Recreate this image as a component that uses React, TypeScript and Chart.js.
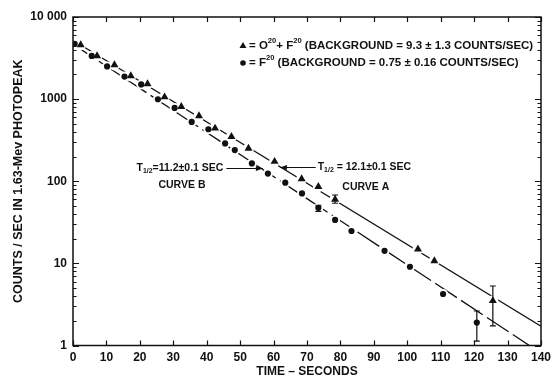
import React, { useEffect, useRef } from "react";
import { Chart, registerables } from "chart.js";

Chart.register(...registerables);

const FONT = "'Liberation Sans', Arial, Helvetica, sans-serif";
const INK = "#111111";

// ---- axis ticks ----
const xTickValues = [0, 10, 20, 30, 40, 50, 60, 70, 80, 90, 100, 110, 120, 130, 140];
const xTickLabels = ["0", "10", "20", "30", "40", "50", "60", "70", "80", "90", "100", "110", "120", "130", "140"];
const yTickValues = [1, 10, 100, 1000, 10000];
const yTickLabels = ["1", "10", "100", "1000", "10 000"];

// ---- O20 + F20 (triangles) ----
const curveATimes = [2.3, 7.2, 12.4, 17.3, 22.3, 27.4, 32.4, 37.7, 42.5, 47.4, 52.5, 60.3, 68.4, 73.4, 78.4, 103.2, 108.1, 125.6];
const curveACounts = [4570, 3360, 2610, 1920, 1530, 1060, 810, 624, 442, 349, 251, 174, 107, 86, 60, 14.9, 10.7, 3.5];

// ---- F20 (circles) ----
const curveBTimes = [0.5, 5.6, 10.2, 15.4, 20.4, 25.4, 30.4, 35.5, 40.5, 45.5, 48.4, 53.5, 58.3, 63.5, 68.5, 73.4, 78.4, 83.3, 93.2, 100.8, 110.7, 120.8];
const curveBCounts = [4700, 3360, 2500, 1880, 1510, 997, 781, 527, 430, 289, 240, 165, 124, 96, 71, 47.5, 33.8, 24.8, 14.2, 9.1, 4.24, 1.9];

// ---- error bars ----
const errTimes = [78.4, 125.6, 73.4, 120.8];
const errLow = [54, 1.73, 43, 1.13];
const errHigh = [68, 5.3, 51, 2.63];

// ---- fitted decay lines ----
const fitATimes = [0, 140];
const fitACounts = [5200, 1.72];
const fitBTimes = [0, 140];
const fitBCounts = [4670, 0.806];

// ---- text ----
const xTitle = "TIME – SECONDS";
const yTitle = "COUNTS / SEC IN 1.63-Mev PHOTOPEAK";
type Seg = [string, number]; // 0 normal, 1 superscript, 2 subscript
const legendA: Seg[] = [["= O", 0], ["20", 1], ["+ F", 0], ["20", 1], [" (BACKGROUND = 9.3 ± 1.3 COUNTS/SEC)", 0]];
const legendB: Seg[] = [["= F", 0], ["20", 1], [" (BACKGROUND = 0.75 ± 0.16 COUNTS/SEC)", 0]];
const annBText: Seg[] = [["T", 0], ["1/2", 2], ["=11.2±0.1 SEC", 0]];
const annAText: Seg[] = [["T", 0], ["1/2", 2], [" = 12.1±0.1 SEC", 0]];
const annBLabel = "CURVE B";
const annALabel = "CURVE A";
// annotation anchors in data coordinates [time, counts]
const annBTextAt = [19, 145];
const annBArrowTip = [56.8, 145];
const annBLabelAt = [32.6, 90];
const annATextAt = [73.2, 149];
const annAArrowTip = [61.9, 149];
const annALabelAt = [87.6, 85];

function pts(xs: number[], ys: number[]) {
  return xs.map((x, i) => ({ x, y: ys[i] }));
}

function drawRich(ctx: CanvasRenderingContext2D, x: number, y: number, segs: Seg[], size: number) {
  let cx = x;
  for (const [txt, kind] of segs) {
    const s = kind === 0 ? size : size * 0.66;
    ctx.font = `bold ${s}px ${FONT}`;
    const dy = kind === 1 ? -size * 0.4 : kind === 2 ? size * 0.32 : 0;
    ctx.fillText(txt, cx, y + dy);
    cx += ctx.measureText(txt).width;
  }
  return cx;
}

function richWidth(ctx: CanvasRenderingContext2D, segs: Seg[], size: number) {
  let w = 0;
  for (const [txt, kind] of segs) {
    const s = kind === 0 ? size : size * 0.66;
    ctx.font = `bold ${s}px ${FONT}`;
    w += ctx.measureText(txt).width;
  }
  return w;
}

function arrow(ctx: CanvasRenderingContext2D, x1: number, y: number, x2: number) {
  ctx.beginPath();
  ctx.moveTo(x1, y);
  ctx.lineTo(x2, y);
  ctx.stroke();
  const dir = x2 > x1 ? 1 : -1;
  ctx.beginPath();
  ctx.moveTo(x2, y);
  ctx.lineTo(x2 - dir * 7, y - 2.5);
  ctx.lineTo(x2 - dir * 7, y + 2.5);
  ctx.closePath();
  ctx.fill();
}

const framePlugin = {
  id: "frameAndExtras",
  afterDatasetsDraw(chart: any) {
    const { ctx, scales } = chart;
    const x = scales.x;
    const y = scales.y;
    ctx.save();
    ctx.strokeStyle = INK;
    ctx.lineWidth = 1.2;
    for (let i = 0; i < errTimes.length; i++) {
      const px = x.getPixelForValue(errTimes[i]);
      const lo = y.getPixelForValue(errLow[i]);
      const hi = y.getPixelForValue(errHigh[i]);
      ctx.beginPath();
      ctx.moveTo(px, lo);
      ctx.lineTo(px, hi);
      ctx.moveTo(px - 3, lo);
      ctx.lineTo(px + 3, lo);
      ctx.moveTo(px - 3, hi);
      ctx.lineTo(px + 3, hi);
      ctx.stroke();
    }
    ctx.restore();
  },
  afterDraw(chart: any) {
    const { ctx, chartArea, scales } = chart;
    const { left, right, top, bottom } = chartArea;
    const x = scales.x;
    const y = scales.y;
    ctx.save();
    ctx.strokeStyle = INK;
    ctx.fillStyle = INK;
    ctx.lineWidth = 1.5;
    ctx.strokeRect(left, top, right - left, bottom - top);
    ctx.lineWidth = 1.2;
    // x ticks top and bottom
    ctx.beginPath();
    for (const t of x.ticks) {
      const px = Math.round(x.getPixelForValue(t.value)) + 0.5;
      ctx.moveTo(px, bottom);
      ctx.lineTo(px, bottom - 5);
      ctx.moveTo(px, top);
      ctx.lineTo(px, top + 5);
    }
    // y ticks left and right (major + minor)
    for (const t of y.ticks) {
      const py = Math.round(y.getPixelForValue(t.value)) + 0.5;
      ctx.moveTo(left, py);
      ctx.lineTo(left + 6, py);
      ctx.moveTo(right, py);
      ctx.lineTo(right - 6, py);
      if (t.value < 10000) {
        for (let m = 2; m <= 9; m++) {
          const pm = Math.round(y.getPixelForValue(t.value * m)) + 0.5;
          ctx.moveTo(left, pm);
          ctx.lineTo(left + 3.5, pm);
          ctx.moveTo(right, pm);
          ctx.lineTo(right - 3.5, pm);
        }
      }
    }
    ctx.stroke();

    // legend
    const lx = right - 298;
    const ly1 = top + 28.5;
    const ly2 = top + 46;
    ctx.beginPath();
    ctx.moveTo(lx, ly1 - 3.5);
    ctx.lineTo(lx + 3.5, ly1 + 2.5);
    ctx.lineTo(lx - 3.5, ly1 + 2.5);
    ctx.closePath();
    ctx.fill();
    ctx.beginPath();
    ctx.arc(lx, ly2, 2.8, 0, Math.PI * 2);
    ctx.fill();
    ctx.textBaseline = "middle";
    ctx.textAlign = "left";
    drawRich(ctx, lx + 6, ly1, legendA, 11.5);
    drawRich(ctx, lx + 6, ly2, legendB, 11.5);

    // annotations
    const fs = 10.5;
    const bx = x.getPixelForValue(annBTextAt[0]);
    const by = y.getPixelForValue(annBTextAt[1]);
    const bEnd = drawRich(ctx, bx, by, annBText, fs);
    ctx.lineWidth = 1;
    arrow(ctx, bEnd + 3, Math.round(by) + 0.5, x.getPixelForValue(annBArrowTip[0]));
    ctx.font = `bold ${fs}px ${FONT}`;
    ctx.textAlign = "center";
    ctx.fillText(annBLabel, x.getPixelForValue(annBLabelAt[0]), y.getPixelForValue(annBLabelAt[1]));
    ctx.textAlign = "left";
    const ax = x.getPixelForValue(annATextAt[0]);
    const ay = y.getPixelForValue(annATextAt[1]);
    drawRich(ctx, ax, ay, annAText, fs);
    arrow(ctx, ax - 2, Math.round(ay) + 0.5, x.getPixelForValue(annAArrowTip[0]));
    ctx.font = `bold ${fs}px ${FONT}`;
    ctx.textAlign = "center";
    ctx.fillText(annALabel, x.getPixelForValue(annALabelAt[0]), y.getPixelForValue(annALabelAt[1]));
    void richWidth;
    ctx.restore();
  },
};

export default function App() {
  const ref = useRef<HTMLCanvasElement | null>(null);
  useEffect(() => {
    const canvas = ref.current;
    if (!canvas) return;
    const tickFont = { family: FONT, size: 12, weight: "bold" as const };
    const chart = new Chart(canvas, {
      type: "scatter",
      data: {
        datasets: [
          {
            label: "O20 + F20",
            data: pts(curveATimes, curveACounts),
            pointStyle: "triangle",
            pointRadius: 4.6,
            backgroundColor: INK,
            borderColor: INK,
            borderWidth: 0,
            order: 0,
          },
          {
            label: "F20",
            data: pts(curveBTimes, curveBCounts),
            pointStyle: "circle",
            pointRadius: 3.1,
            backgroundColor: INK,
            borderColor: INK,
            borderWidth: 0,
            order: 0,
          },
          {
            label: "haloA",
            data: pts(curveATimes, curveACounts),
            pointStyle: "circle",
            pointRadius: 5.5,
            backgroundColor: "#ffffff",
            borderWidth: 0,
            order: 1,
          },
          {
            label: "haloB",
            data: pts(curveBTimes, curveBCounts),
            pointStyle: "circle",
            pointRadius: 5,
            backgroundColor: "#ffffff",
            borderWidth: 0,
            order: 1,
          },
          {
            label: "Curve A",
            data: pts(fitATimes, fitACounts),
            showLine: true,
            pointRadius: 0,
            borderColor: INK,
            borderWidth: 1.3,
            order: 2,
          },
          {
            label: "Curve B",
            data: pts(fitBTimes, fitBCounts),
            showLine: true,
            pointRadius: 0,
            borderColor: INK,
            borderWidth: 1.3,
            borderDash: [26, 5],
            order: 2,
          },
        ],
      },
      options: {
        animation: false,
        responsive: false,
        devicePixelRatio: 1,
        layout: { padding: { top: 17, right: 12, left: 0, bottom: 0 } },
        plugins: { legend: { display: false }, tooltip: { enabled: false } },
        scales: {
          x: {
            type: "linear",
            min: 0,
            max: 140,
            afterBuildTicks: (s: any) => {
              s.ticks = xTickValues.map((v) => ({ value: v }));
            },
            afterFit: (s: any) => {
              s.height = 30.5;
            },
            ticks: {
              padding: 5,
              color: INK,
              font: tickFont,
              maxRotation: 0,
              autoSkip: false,
              callback: (v: any) => xTickLabels[xTickValues.indexOf(Number(v))] ?? "",
            },
            grid: { display: false, drawTicks: false },
            border: { display: false },
            title: {
              display: true,
              text: xTitle,
              color: INK,
              font: { family: FONT, size: 12, weight: "bold" },
              padding: { top: 0, bottom: -3 },
            },
          },
          y: {
            type: "logarithmic",
            min: 1,
            max: 10000,
            afterBuildTicks: (s: any) => {
              s.ticks = yTickValues.map((v) => ({ value: v }));
            },
            afterFit: (s: any) => {
              s.width = 73;
            },
            ticks: {
              padding: 6,
              color: INK,
              font: tickFont,
              autoSkip: false,
              callback: (v: any) => yTickLabels[yTickValues.indexOf(Number(v))] ?? "",
            },
            grid: { display: false, drawTicks: false },
            border: { display: false },
            title: {
              display: true,
              text: yTitle,
              color: INK,
              font: { family: FONT, size: 12.5, weight: "bold" },
              padding: { top: 11, bottom: 0 },
            },
          },
        },
      },
      plugins: [framePlugin],
    } as any);
    return () => chart.destroy();
  }, []);
  return (
    <div style={{ position: "fixed", left: 0, top: 0, width: 556, height: 376, background: "#ffffff" }}>
      <canvas ref={ref} width={556} height={376} style={{ display: "block", width: 556, height: 376 }} />
    </div>
  );
}
